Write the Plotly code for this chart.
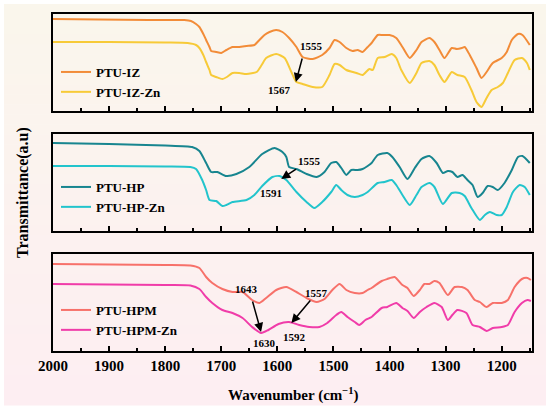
import plotly.graph_objects as go

# FTIR spectra, wavenumber (cm-1) vs transmittance (a.u.)
iz_wn = [2000, 1918, 1829, 1766, 1754, 1745, 1739, 1732, 1727, 1721, 1718, 1709, 1700, 1691, 1680,
         1668, 1655, 1641, 1632, 1623, 1614, 1602, 1591, 1579, 1566, 1555, 1537, 1520, 1507, 1498,
         1489, 1477, 1466, 1457, 1448, 1439, 1432, 1421, 1412, 1400, 1388, 1377, 1364, 1352, 1343,
         1329, 1320, 1311, 1302, 1289, 1280, 1271, 1266, 1257, 1245, 1236, 1227, 1216, 1200, 1191,
         1182, 1171, 1163, 1150]
iz_t = [92, 91.5, 91, 91, 90, 87, 84, 77, 71, 64, 60, 59, 58, 61, 64,
        64, 65, 66, 71, 76, 79, 81, 79, 73, 64, 54, 52, 56, 63, 71,
        69, 63, 60, 61, 59, 64, 68, 76, 76, 76, 73, 64, 53, 61, 69,
        73, 69, 61, 53, 63, 62, 63, 64, 56, 43, 33, 39, 48, 53, 59,
        71, 77, 76, 66]

izzn_wn = [2000, 1900, 1800, 1760, 1745, 1739, 1732, 1727, 1721, 1718, 1709, 1698, 1690, 1680, 1668,
           1655, 1637, 1628, 1620, 1602, 1587, 1575, 1566, 1555, 1537, 1520, 1507, 1498, 1489, 1477,
           1459, 1448, 1436, 1430, 1421, 1409, 1396, 1388, 1379, 1364, 1352, 1343, 1329, 1320, 1311,
           1302, 1289, 1279, 1266, 1254, 1245, 1236, 1227, 1218, 1207, 1198, 1189, 1177, 1164, 1155,
           1150]
izzn_t = [69, 69, 68.5, 68, 66, 63, 56, 49, 41, 36, 34, 32, 34, 38, 38,
          37, 39, 46, 53, 57, 53, 39, 29, 27, 24, 24, 36, 47, 46, 41,
          38, 36, 42, 41, 53, 54, 57, 53, 41, 28, 38, 48, 50, 46, 36,
          29, 39, 36, 34, 21, 9, 4, 13, 21, 24, 28, 38, 51, 53, 48,
          41]

hp_wn = [2000, 1900, 1800, 1752, 1739, 1727, 1718, 1707, 1691, 1673, 1650, 1627, 1605, 1591, 1584,
         1579, 1566, 1548, 1530, 1516, 1504, 1495, 1486, 1477, 1468, 1457, 1448, 1439, 1432, 1421,
         1404, 1395, 1382, 1368, 1355, 1343, 1329, 1316, 1305, 1296, 1288, 1279, 1270, 1261, 1252,
         1243, 1234, 1225, 1216, 1207, 1195, 1182, 1171, 1163, 1150]
hp_t = [88, 87, 85.5, 84, 80, 68, 59, 59, 55, 57, 64, 77, 83, 79, 74,
        64, 62, 57, 54, 59, 68, 69, 63, 56, 61, 61, 62, 65, 68, 76,
        78, 74, 64, 52, 63, 72, 75, 68, 58, 60, 59, 54, 56, 51, 46,
        34, 38, 45, 44, 41, 48, 61, 74, 75, 68]

hpzn_wn = [2000, 1900, 1800, 1755, 1745, 1734, 1727, 1721, 1709, 1698, 1691, 1680, 1655, 1641, 1627,
           1609, 1596, 1584, 1566, 1548, 1534, 1520, 1504, 1495, 1486, 1475, 1462, 1448, 1439, 1421,
           1409, 1396, 1388, 1377, 1364, 1352, 1343, 1329, 1320, 1305, 1289, 1275, 1266, 1254, 1239,
           1230, 1221, 1209, 1200, 1191, 1180, 1168, 1159, 1150]
hpzn_t = [65, 65, 64.5, 64, 62, 51, 41, 31, 30, 25, 26, 29, 31, 36, 45,
          54, 55, 51, 39, 29, 23, 29, 39, 46, 41, 36, 34, 36, 39, 48,
          49, 51, 46, 36, 26, 36, 44, 48, 44, 27, 38, 38, 35, 23, 11,
          16, 19, 16, 16, 24, 39, 46, 44, 36]

hpm_wn = [2000, 1900, 1800, 1755, 1739, 1727, 1716, 1698, 1680, 1662, 1645, 1632, 1620, 1602, 1584,
          1566, 1548, 1530, 1516, 1502, 1489, 1477, 1462, 1448, 1439, 1432, 1414, 1404, 1391, 1377,
          1368, 1357, 1346, 1338, 1329, 1320, 1311, 1296, 1284, 1271, 1261, 1248, 1239, 1227, 1216,
          1200, 1189, 1177, 1164, 1154, 1148]
hpm_t = [87, 86.5, 86, 85.5, 83, 74, 68, 62, 59, 59, 51, 48, 53, 61, 64,
         59, 53, 49, 52, 61, 67, 61, 58, 58, 61, 63, 70, 72, 74, 66,
         63, 55, 61, 67, 67, 70, 68, 56, 64, 64, 61, 51, 49, 44, 48,
         48, 51, 64, 72, 73, 71]

hpmzn_wn = [2000, 1900, 1800, 1755, 1739, 1727, 1716, 1698, 1680, 1662, 1645, 1629, 1616, 1598, 1579,
            1561, 1543, 1525, 1511, 1495, 1486, 1475, 1462, 1454, 1443, 1432, 1414, 1404, 1388, 1377,
            1368, 1357, 1346, 1334, 1320, 1307, 1296, 1288, 1279, 1263, 1252, 1239, 1227, 1216, 1200,
            1189, 1177, 1164, 1154, 1148]
hpmzn_t = [67, 66.5, 66, 65.5, 62, 54, 48, 41, 38, 33, 24, 18, 21, 27, 29,
           26, 24, 24, 28, 36, 39, 34, 29, 26, 31, 34, 43, 44, 48, 43,
           40, 33, 39, 44, 48, 44, 31, 36, 41, 38, 26, 24, 20, 23, 24,
           26, 39, 48, 51, 50]

# peak labels: (panel, text, x, y)
peak_labels = [
    (1, "1555", 1539, 65), (1, "1567", 1596, 21),
    (2, "1555", 1543, 70), (2, "1591", 1612, 38),
    (3, "1643", 1655, 62), (3, "1630", 1623, 8),
    (3, "1557", 1530, 58), (3, "1592", 1570, 14),
]
# arrows: (panel, tail x, tail y, head x, head y)
peak_arrows = [
    (1, 1555, 54, 1567, 29),
    (2, 1564, 63, 1593, 52),
    (3, 1645, 51, 1629, 19),
    (3, 1539, 52, 1575, 28),
]

W, H = 550, 409
serif = "Liberation Serif"

series = [
    (1, "PTU-IZ", iz_wn, iz_t, "#f28c38"),
    (1, "PTU-IZ-Zn", izzn_wn, izzn_t, "#f7ca38"),
    (2, "PTU-HP", hp_wn, hp_t, "#17858f"),
    (2, "PTU-HP-Zn", hpzn_wn, hpzn_t, "#22c4cc"),
    (3, "PTU-HPM", hpm_wn, hpm_t, "#f7716a"),
    (3, "PTU-HPM-Zn", hpmzn_wn, hpmzn_t, "#f03ca9"),
]

fig = go.Figure()
for panel, name, wn, t, color in series:
    sfx = "" if panel == 1 else str(panel)
    fig.add_trace(go.Scatter(
        x=wn, y=t, name=name, mode="lines",
        line=dict(color=color, width=2, shape="spline", smoothing=0.6),
        xaxis="x" + sfx, yaxis="y" + sfx,
        legend="legend" + sfx,
    ))

# panel boxes in pixels (top, bottom)
panels = {1: (14, 111), 2: (134, 231), 3: (254, 351)}
x_dom = [53 / W, 532 / W]

layout = dict(
    width=W, height=H,
    margin=dict(l=0, r=0, t=0, b=0, autoexpand=False),
    paper_bgcolor="white",
    plot_bgcolor="rgba(0,0,0,0)",
    font=dict(family=serif, color="black", size=12, weight="bold"),
    showlegend=True,
)

for p, (top, bot) in panels.items():
    sfx = "" if p == 1 else str(p)
    layout["xaxis" + sfx] = dict(
        domain=x_dom, range=[2000, 1146], anchor="y" + sfx, automargin=False,
        showline=True, linecolor="black", linewidth=2, mirror=True,
        ticks="inside", ticklen=5, tickwidth=1.5, tickcolor="black",
        tick0=2000, dtick=100, showgrid=False, zeroline=False,
        minor=dict(ticks="inside", ticklen=3, tickwidth=1.5, dtick=50, tickcolor="black"),
        showticklabels=(p == 3),
        tickfont=dict(family=serif, size=15, weight="bold"),
    )
    layout["yaxis" + sfx] = dict(
        domain=[1 - bot / H, 1 - top / H], range=[0, 97], anchor="x" + sfx, automargin=False,
        showline=True, linecolor="black", linewidth=2, mirror=True,
        showticklabels=False, ticks="", showgrid=False, zeroline=False,
    )

legend_tops = {1: 57, 2: 172, 3: 295}
for p, top in legend_tops.items():
    key = "legend" if p == 1 else "legend" + str(p)
    layout[key] = dict(
        x=56 / W, y=1 - top / H, xanchor="left", yanchor="top",
        bgcolor="rgba(0,0,0,0)", borderwidth=0,
        font=dict(family=serif, size=13, weight="bold"),
        tracegroupgap=0, itemwidth=30,
    )

fig.update_layout(**layout)

# soft background: cream at the top fading to pink at the bottom
top_c = (250, 246, 236)
bot_c = (253, 238, 242)
n = 40
y0, y1 = 4, 405
for i in range(n):
    f = i / (n - 1)
    c = tuple(round(a + (b - a) * f) for a, b in zip(top_c, bot_c))
    ya = y0 + (y1 - y0) * i / n
    yb = y0 + (y1 - y0) * (i + 1) / n + 0.5
    fig.add_shape(type="rect", xref="paper", yref="paper", layer="below",
                  x0=4 / W, x1=546 / W, y0=1 - yb / H, y1=1 - ya / H,
                  line=dict(width=0), fillcolor="rgb(%d,%d,%d)" % c)

for p, txt, x, y in peak_labels:
    sfx = "" if p == 1 else str(p)
    fig.add_annotation(x=x, y=y, xref="x" + sfx, yref="y" + sfx, text=txt,
                       showarrow=False, font=dict(family=serif, size=11, weight="bold"))

for p, tx, ty, hx, hy in peak_arrows:
    sfx = "" if p == 1 else str(p)
    fig.add_annotation(x=hx, y=hy, ax=tx, ay=ty, xref="x" + sfx, yref="y" + sfx,
                       axref="x" + sfx, ayref="y" + sfx, text="", showarrow=True,
                       arrowhead=2, arrowsize=1.2, arrowwidth=1.5, arrowcolor="black",
                       standoff=0, startstandoff=0)

fig.add_annotation(x=293 / W, y=1 - 394 / H, xref="paper", yref="paper",
                   xanchor="center", yanchor="middle",
                   text="Wavenumber (cm<sup>−1</sup>)", showarrow=False,
                   font=dict(family=serif, size=15, weight="bold"))
fig.add_annotation(x=23 / W, y=1 - 193 / H, xref="paper", yref="paper",
                   xanchor="center", yanchor="middle",
                   text="Transmittance(a.u)", textangle=-90, showarrow=False,
                   font=dict(family=serif, size=16, weight="bold"))

# the page body has a default 8px margin; drop it so the figure sits at the window corner
fig.write_html("out.html", config={"displayModeBar": False},
               post_script="document.body.style.margin='0';")
